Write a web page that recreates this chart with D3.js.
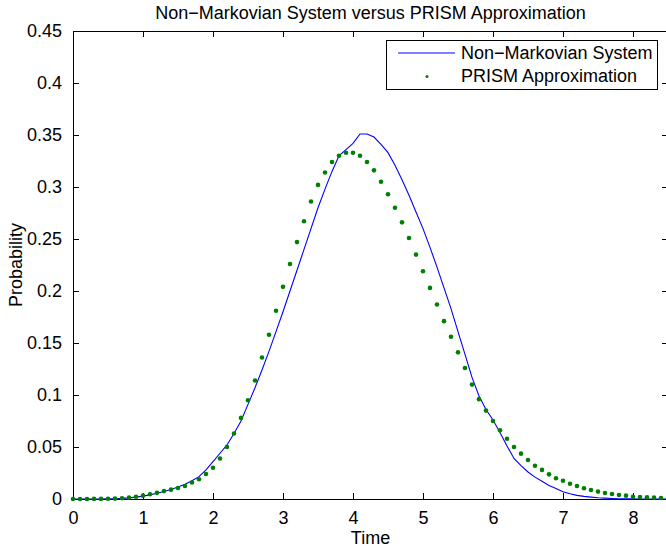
<!DOCTYPE html>
<html>
<head>
<meta charset="utf-8">
<script src="https://cdn.jsdelivr.net/npm/d3@7"></script>
<style>
  body { margin: 0; background: #fff; }
  text { font-family: "Liberation Sans", Arial, Helvetica, sans-serif; fill: #000; }
</style>
</head>
<body>
<svg id="chart" width="666" height="550"></svg>
<script>
// sample times (0 .. 8.5, every 0.1)
var time = [0,0.1,0.2,0.3,0.4,0.5,0.6,0.7,0.8,0.9,
            1,1.1,1.2,1.3,1.4,1.5,1.6,1.7,1.8,1.9,
            2,2.1,2.2,2.3,2.4,2.5,2.6,2.7,2.8,2.9,
            3,3.1,3.2,3.3,3.4,3.5,3.6,3.7,3.8,3.9,
            4,4.1,4.2,4.3,4.4,4.5,4.6,4.7,4.8,4.9,
            5,5.1,5.2,5.3,5.4,5.5,5.6,5.7,5.8,5.9,
            6,6.1,6.2,6.3,6.4,6.5,6.6,6.7,6.8,6.9,
            7,7.1,7.2,7.3,7.4,7.5,7.6,7.7,7.8,7.9,
            8,8.1,8.2,8.3,8.4,8.5];

// Non-Markovian System (solid line)
var nonMarkov = [0,0,0,0,0,0.0001,0.0003,0.0006,0.0011,0.0018,
                 0.0028,0.0040,0.0055,0.0072,0.0092,0.0115,0.0142,0.0175,0.0215,0.0280,
                 0.0360,0.0440,0.0520,0.0630,0.0750,0.0910,0.1070,0.1240,0.1420,0.1610,
                 0.1800,0.2000,0.2200,0.2400,0.2600,0.2800,0.2980,0.3150,0.3300,0.3360,
                 0.3420,0.3510,0.3510,0.3480,0.3410,0.3330,0.3210,0.3070,0.2920,0.2760,
                 0.2600,0.2420,0.2230,0.2030,0.1830,0.1610,0.1390,0.1170,0.0990,0.0860,
                 0.0760,0.0640,0.0510,0.0390,0.0320,0.0260,0.0210,0.0170,0.0130,0.0100,
                 0.0070,0.0050,0.0035,0.0025,0.0018,0.0012,0.0008,0.0005,0.0003,0.0002,
                 0.0001,0,0,0,0,0];

// PRISM Approximation (dots)
var prism = [0,0,0,0.0001,0.0001,0.0002,0.0004,0.0007,0.0013,0.0022,
             0.0032,0.0045,0.0059,0.0076,0.0090,0.0106,0.0125,0.0158,0.0190,0.0240,
             0.0300,0.0390,0.0500,0.0630,0.0780,0.0950,0.1140,0.1360,0.1580,0.1810,
             0.2040,0.2260,0.2470,0.2670,0.2860,0.3020,0.3140,0.3240,0.3300,0.3330,
             0.3330,0.3300,0.3240,0.3160,0.3050,0.2930,0.2800,0.2660,0.2510,0.2350,
             0.2190,0.2030,0.1870,0.1710,0.1560,0.1410,0.1260,0.1100,0.0960,0.0850,
             0.0750,0.0660,0.0580,0.0500,0.0436,0.0375,0.0320,0.0280,0.0237,0.0200,
             0.0176,0.0147,0.0125,0.0103,0.0087,0.0071,0.0058,0.0048,0.0038,0.0032,
             0.0022,0.0019,0.0016,0.0013,0.0010,0.0008];

var xTicks = [0,1,2,3,4,5,6,7,8];
var yTicks = [0,0.05,0.1,0.15,0.2,0.25,0.3,0.35,0.4,0.45];
var seriesNames = ["Non\u2212Markovian System", "PRISM Approximation"];

var svg = d3.select("#chart");
var padL = 73, padR = 668, padT = 31, padB = 499;

var x = d3.scaleLinear().domain([0, 8.5]).range([padL, padR]);
var y = d3.scaleLinear().domain([0, 0.45]).range([padB, padT]);

// title
svg.append("text")
  .attr("x", (padL + padR) / 2).attr("y", 19)
  .attr("text-anchor", "middle").style("font-size", "18px")
  .text("Non\u2212Markovian System versus PRISM Approximation");

// axes, ticks pointing inward like matlab
var fmt = function(d) { return String(+d.toFixed(2)); };
svg.append("g").attr("transform", "translate(0," + padB + ")")
  .call(d3.axisBottom(x).tickValues(xTicks).tickSizeInner(-6).tickSizeOuter(0).tickPadding(12).tickFormat(fmt));
svg.append("g").attr("transform", "translate(0," + padT + ")")
  .call(d3.axisTop(x).tickValues(xTicks).tickSizeInner(-6).tickSizeOuter(0).tickFormat(""));
svg.append("g").attr("transform", "translate(" + padL + ",0)")
  .call(d3.axisLeft(y).tickValues(yTicks).tickSizeInner(-6).tickSizeOuter(0).tickPadding(11).tickFormat(fmt));
svg.append("g").attr("transform", "translate(" + padR + ",0)")
  .call(d3.axisRight(y).tickValues(yTicks).tickSizeInner(-6).tickSizeOuter(0).tickFormat(""));

svg.selectAll(".tick text").style("font-size", "18px").attr("fill", "#000")
  .style("font-family", "'Liberation Sans', Arial, sans-serif");
svg.selectAll(".domain, .tick line").attr("stroke", "#000");

// axis labels
svg.append("text")
  .attr("x", (padL + padR) / 2).attr("y", 544)
  .attr("text-anchor", "middle").style("font-size", "18px")
  .text("Time");
svg.append("text")
  .attr("transform", "translate(22," + ((padT + padB) / 2) + ") rotate(-90)")
  .attr("text-anchor", "middle").style("font-size", "18px")
  .text("Probability");

// data
var line = d3.line()
  .x(function(d, i) { return x(time[i]); })
  .y(function(d) { return y(d); });

svg.append("path")
  .datum(nonMarkov)
  .attr("d", line)
  .attr("fill", "none")
  .attr("stroke", "#0000ff")
  .attr("stroke-width", 1.1);

svg.append("g").selectAll("circle")
  .data(prism)
  .enter().append("circle")
  .attr("cx", function(d, i) { return x(time[i]); })
  .attr("cy", function(d) { return y(d); })
  .attr("r", 2.3)
  .attr("fill", "#008000");

// legend
var lg = svg.append("g");
lg.append("rect")
  .attr("x", 386.5).attr("y", 40.5).attr("width", 271).attr("height", 49)
  .attr("fill", "#fff").attr("stroke", "#000");
lg.append("line")
  .attr("x1", 398).attr("x2", 455).attr("y1", 53).attr("y2", 53)
  .attr("stroke", "#0000ff").attr("stroke-width", 1);
lg.append("circle")
  .attr("cx", 427).attr("cy", 76.5).attr("r", 1.5).attr("fill", "#008000");
lg.selectAll("text.lab")
  .data(seriesNames)
  .enter().append("text")
  .attr("class", "lab")
  .attr("x", 461)
  .attr("y", function(d, i) { return 59 + i * 23; })
  .style("font-size", "18px")
  .text(function(d) { return d; });
</script>
</body>
</html>
